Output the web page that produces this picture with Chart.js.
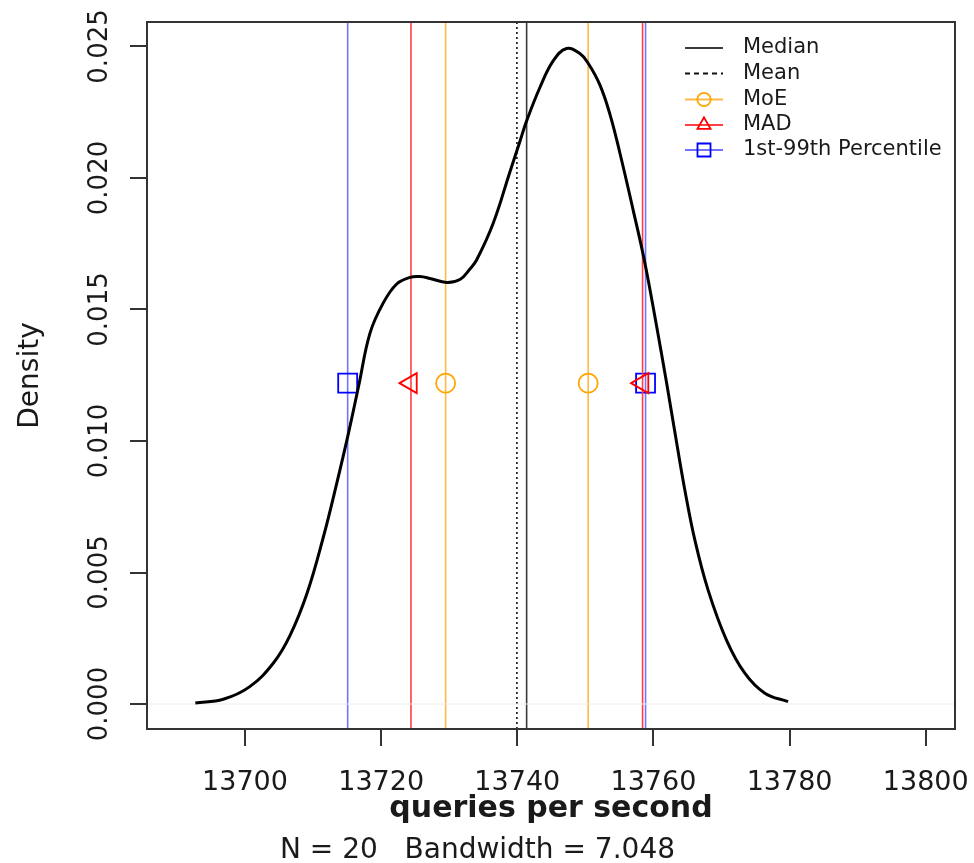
<!DOCTYPE html>
<html>
<head>
<meta charset="utf-8">
<title>Density - queries per second</title>
<script src="https://cdn.jsdelivr.net/npm/chart.js@4.4.1/dist/chart.umd.min.js"></script>
<style>
    html, body { margin: 0; padding: 0; background: #fff; }
    #wrap { width: 974px; height: 863px; }
</style>
</head>
<body>
<div id="wrap"><canvas id="densityChart" width="974" height="863"></canvas></div>
<script>
// kernel density of queries per second (N = 20, bw = 7.048)
const densityX = [13692.70, 13696.80, 13700.70, 13704.20, 13706.60, 13709.10, 13711.50, 13713.50, 13715.20, 13716.70,
    13718.36, 13720.31, 13722.28, 13724.23, 13725.70, 13727.17, 13729.62, 13731.57, 13733.04, 13734.02,
    13736.46, 13738.91, 13740.38, 13741.37, 13743.32, 13745.27, 13747.24, 13749.19, 13750.41, 13752.13,
    13753.60, 13755.07, 13757.02, 13758.74, 13760.46, 13761.93, 13763.39, 13764.61, 13766.08, 13768.03,
    13770.73, 13773.42, 13776.36, 13779.78];
const densityY = [0.00004, 0.00018, 0.00066, 0.00157, 0.00260, 0.00420, 0.00634, 0.00842, 0.01030, 0.01210,
    0.01410, 0.01525, 0.01597, 0.01622, 0.01625, 0.01618, 0.01603, 0.01614, 0.01654, 0.01688,
    0.01828, 0.02023, 0.02139, 0.02217, 0.02344, 0.02445, 0.02492, 0.02473, 0.02436, 0.02354,
    0.02243, 0.02095, 0.01878, 0.01677, 0.01437, 0.01221, 0.00996, 0.00814, 0.00624, 0.00433,
    0.00243, 0.00117, 0.00041, 0.00009];

const xTicks = [13700, 13720, 13740, 13760, 13780, 13800];
const yTicks = [0, 0.005, 0.010, 0.015, 0.020, 0.025];
const yTickLabels = ["0.000", "0.005", "0.010", "0.015", "0.020", "0.025"];

// summary statistics
const medianValue = 13741.37;
const meanValue = 13739.94;
const moeBounds = [13729.47, 13750.41];
const madBounds = [13724.38, 13758.40];
const pctBounds = [13715.08, 13758.84];
const markerLevel = 0.0122;

const xRange = [13685.6, 13804.3];
const yRange = [-0.00095, 0.02593];

const FONT = "'DejaVu Sans', sans-serif";
const TEXT = "#1a1a1a";
const AXIS = "#333";

const curvePoints = densityX.map((x, i) => ({ x: x, y: densityY[i] }));

// vertical reference line, optionally with a marker at markerLevel
function vline(x, color, opts) {
    const o = opts || {};
    const data = o.marker
        ? [{ x: x, y: yRange[0] }, { x: x, y: markerLevel }, { x: x, y: yRange[1] }]
        : [{ x: x, y: yRange[0] }, { x: x, y: yRange[1] }];
    return {
        data: data,
        borderColor: color,
        borderWidth: o.width || 1.6,
        borderDash: o.dash || [],
        pointRadius: o.marker ? [0, o.radius, 0] : 0,
        pointStyle: o.marker || "circle",
        pointRotation: o.rotation || 0,
        pointBorderColor: o.markerColor || color,
        pointBackgroundColor: "rgba(0,0,0,0)",
        pointBorderWidth: 1.8,
        tension: 0,
    };
}

const datasets = [
    {
        data: curvePoints,
        borderColor: "#000",
        borderWidth: 3,
        pointRadius: 0,
        tension: 0.4,
    },
    {
        data: [{ x: xRange[0], y: 0 }, { x: xRange[1], y: 0 }],
        borderColor: "#ececec",
        borderWidth: 1,
        pointRadius: 0,
    },
    vline(medianValue, "#3a3a3a", { width: 1.6 }),
    vline(meanValue, "#111", { width: 1.6, dash: [2, 3] }),
];

moeBounds.forEach((v) => datasets.push(vline(v, "#ffb84a", { marker: "circle", radius: 9.5, markerColor: "#ffa500" })));
madBounds.forEach((v) => datasets.push(vline(v, "#ff4040", { marker: "triangle", radius: 11.5, rotation: -90, markerColor: "#ff0000" })));
pctBounds.forEach((v) => datasets.push(vline(v, "#7373ff", { marker: "rect", radius: 13.4, markerColor: "#0000ff" })));

// R style frame round the plotting region
const boxPlugin = {
    id: "box",
    afterDraw(chart) {
        const { ctx, chartArea: a } = chart;
        ctx.save();
        ctx.strokeStyle = AXIS;
        ctx.lineWidth = 2;
        ctx.strokeRect(a.left, a.top, a.right - a.left, a.bottom - a.top);
        ctx.restore();
    },
};

// rotated y tick labels
const yLabelPlugin = {
    id: "yLabels",
    afterDraw(chart) {
        const { ctx } = chart;
        const scale = chart.scales.y;
        ctx.save();
        ctx.fillStyle = TEXT;
        ctx.font = "26px " + FONT;
        ctx.textAlign = "center";
        ctx.textBaseline = "alphabetic";
        yTicks.forEach((v, i) => {
            ctx.save();
            ctx.translate(107, scale.getPixelForValue(v));
            ctx.rotate(-Math.PI / 2);
            ctx.fillText(yTickLabels[i], 0, 0);
            ctx.restore();
        });
        ctx.restore();
    },
};

const legendItems = [
    { label: "Median", color: "#3a3a3a", dash: [] },
    { label: "Mean", color: "#111", dash: [5, 4] },
    { label: "MoE", color: "#ffb84a", markerColor: "#ffa500", marker: "circle", radius: 6.7 },
    { label: "MAD", color: "#ff4040", markerColor: "#ff0000", marker: "triangle", radius: 7.6 },
    { label: "1st-99th Percentile", color: "#7373ff", markerColor: "#0000ff", marker: "rect", radius: 9.2 },
];

const legendPlugin = {
    id: "rLegend",
    afterDraw(chart) {
        const { ctx } = chart;
        const x0 = 685, x1 = 723, tx = 743;
        const rows = [48, 73.5, 99.5, 125, 150];
        ctx.save();
        legendItems.forEach((item, i) => {
            const y = rows[i];
            ctx.strokeStyle = item.color;
            ctx.lineWidth = 2;
            ctx.setLineDash(item.dash || []);
            ctx.beginPath();
            ctx.moveTo(x0, y);
            ctx.lineTo(x1, y);
            ctx.stroke();
            ctx.setLineDash([]);
            if (item.marker) {
                ctx.strokeStyle = item.markerColor;
                ctx.fillStyle = "rgba(0,0,0,0)";
                ctx.lineWidth = 1.8;
                Chart.helpers.drawPoint(ctx, {
                    pointStyle: item.marker,
                    radius: item.radius,
                    rotation: 0,
                    borderWidth: 1.8,
                }, (x0 + x1) / 2, y);
            }
            ctx.fillStyle = TEXT;
            ctx.font = "21px " + FONT;
            ctx.textAlign = "left";
            ctx.textBaseline = "middle";
            ctx.fillText(item.label, tx, y);
        });
        ctx.restore();
    },
};

new Chart(document.getElementById("densityChart"), {
    type: "line",

    data: { datasets: datasets },

    options: {
        responsive: false,
        animation: false,
        events: [],

        layout: {
            padding: { left: 0, right: 19, top: 22, bottom: 0 },
        },

        plugins: {
            legend: { display: false },
            tooltip: { enabled: false },
            subtitle: {
                display: true,
                position: "bottom",
                text: "N = 20   Bandwidth = 7.048",
                color: TEXT,
                font: { family: FONT, size: 28, weight: "normal", lineHeight: 0.9 },
                padding: 0,
            },
        },

        scales: {
            x: {
                type: "linear",
                min: xRange[0],
                max: xRange[1],
                afterBuildTicks: (s) => { s.ticks = xTicks.map((v) => ({ value: v })); },
                afterFit: (s) => { s.paddingLeft = 0; s.paddingRight = 0; },
                grid: {
                    drawOnChartArea: false,
                    drawTicks: true,
                    tickLength: 17,
                    color: AXIS,
                    lineWidth: 2,
                },
                border: { display: false },
                ticks: {
                    color: TEXT,
                    padding: 25.7,
                    maxRotation: 0,
                    font: { family: FONT, size: 27, lineHeight: 0.8 },
                    callback: (v) => String(v),
                },
                title: {
                    display: true,
                    text: "queries per second",
                    color: TEXT,
                    font: { family: FONT, size: 30, weight: "bold", lineHeight: 1 },
                    // tick padding is counted twice when the axis is sized
                    padding: { top: -25, bottom: 13.8 },
                },
            },

            y: {
                type: "linear",
                min: yRange[0],
                max: yRange[1],
                afterBuildTicks: (s) => { s.ticks = yTicks.map((v) => ({ value: v })); },
                grid: {
                    drawOnChartArea: false,
                    drawTicks: true,
                    tickLength: 17,
                    color: AXIS,
                    lineWidth: 2,
                },
                border: { display: false },
                ticks: { display: false },
                title: {
                    display: true,
                    text: "Density",
                    color: TEXT,
                    font: { family: FONT, size: 28, lineHeight: 1 },
                    padding: { top: 17, bottom: 85 },
                },
            },
        },
    },

    plugins: [boxPlugin, yLabelPlugin, legendPlugin],
});
</script>
</body>
</html>
